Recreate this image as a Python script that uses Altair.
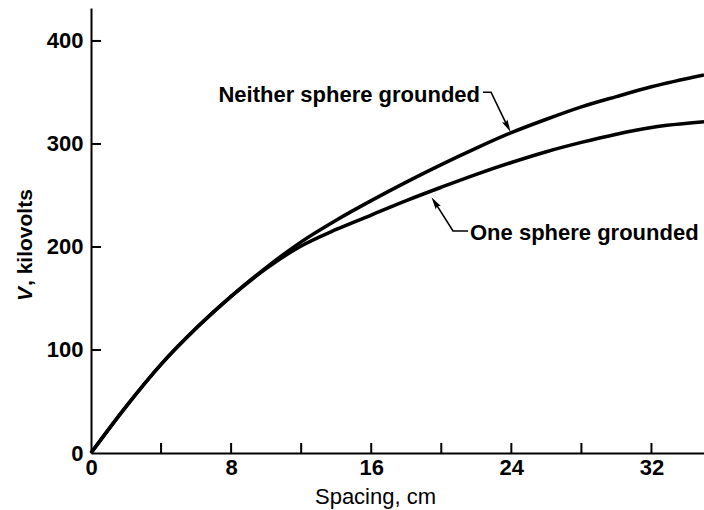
import altair as alt
import pandas as pd

# ---- data ----
spacing = [0, 2, 4, 6, 8, 10, 12, 14, 16, 18, 20, 22, 24, 26, 28, 30, 32, 35]
neither_grounded = [0, 45, 86, 121, 152, 180, 205, 226, 245, 263, 280, 296, 311, 324, 336, 346, 355.5, 367]
one_grounded = [0, 45, 86, 121, 152, 179, 201, 217, 231, 245, 258, 270.5, 282, 292.5, 301.5, 309.5, 316, 321.5]

x_tick_values = [4, 8, 12, 16, 20, 24, 28, 32]
x_label_values = [0, 8, 16, 24, 32]
y_tick_values = [100, 200, 300, 400]
y_label_values = [0, 100, 200, 300, 400]

label_texts = ["Neither sphere grounded", "One sphere grounded"]
label_x = [22.21, 21.64]
label_y = [341, 206.8]
label_align = ["right", "left"]

# leader lines (x, V) for each annotation
leader_group = ["a", "a", "a", "b", "b", "b"]
leader_order = [0, 1, 2, 0, 1, 2]
leader_x = [22.38, 22.84, 23.74, 21.53, 20.67, 19.69]
leader_v = [350.2, 350.2, 318.6, 215.5, 215.5, 241.8]

arrow_x = [23.74, 19.69]
arrow_v = [318.6, 241.8]
arrow_angle = [332, 147]

FONT = "Liberation Sans"
W, H = 613, 445

xs = alt.Scale(domain=[0, 35], nice=False, zero=True)
ys = alt.Scale(domain=[0, 432], nice=False, zero=True)

x_axis = alt.Axis(
    values=x_label_values, ticks=False, grid=False, labelPadding=4, labelFlush=False,
    labelFont=FONT, labelFontSize=22, labelFontWeight="bold", labelColor="black",
    labelOverlap=False, domainColor="black", domainWidth=2,
    title="Spacing, cm", titleFont=FONT, titleFontSize=22, titleFontWeight="normal",
    titleColor="black", titleX=284, titleY=50, titleBaseline="alphabetic",
    titleAlign="center")
y_axis = alt.Axis(
    values=y_label_values, ticks=False, grid=False, labelPadding=8, labelFlush=False,
    labelFont=FONT, labelFontSize=22, labelFontWeight="bold", labelColor="black",
    labelOverlap=False, domainColor="black", domainWidth=2, title=None)


def X(field):
    return alt.X(field, scale=xs, axis=x_axis)


def Y(field):
    return alt.Y(field, scale=ys, axis=y_axis)


curves = pd.DataFrame({
    "x": spacing * 2,
    "v": neither_grounded + one_grounded,
    "series": ["neither"] * len(spacing) + ["one"] * len(spacing),
})

base_lines = alt.Chart(curves).mark_line(
    color="black", strokeWidth=3.5, interpolate="monotone"
).encode(
    x=X("x:Q"), y=Y("v:Q"), detail="series:N",
)

xt = alt.Chart(pd.DataFrame({"x": x_tick_values})).mark_rule(
    color="black", strokeWidth=2
).encode(
    x=X("x:Q"), y=alt.value(H), y2=alt.value(H - 10),
)

yt = alt.Chart(pd.DataFrame({"v": y_tick_values})).mark_rule(
    color="black", strokeWidth=2
).encode(
    y=Y("v:Q"), x=alt.value(0), x2=alt.value(10),
)

labels_df = pd.DataFrame({"label": label_texts, "x": label_x, "v": label_y, "align": label_align})
lab_right = alt.Chart(labels_df[labels_df["align"] == "right"]).mark_text(
    align="right", baseline="alphabetic", font=FONT, fontSize=22, fontWeight="bold", color="black"
).encode(x=X("x:Q"), y=Y("v:Q"), text="label:N")
lab_left = alt.Chart(labels_df[labels_df["align"] == "left"]).mark_text(
    align="left", baseline="alphabetic", font=FONT, fontSize=22, fontWeight="bold", color="black"
).encode(x=X("x:Q"), y=Y("v:Q"), text="label:N")

leaders = alt.Chart(pd.DataFrame({
    "g": leader_group, "o": leader_order, "x": leader_x, "v": leader_v
})).mark_line(color="black", strokeWidth=1.6).encode(
    x=X("x:Q"), y=Y("v:Q"), detail="g:N", order="o:Q",
)

arrows = alt.Chart(pd.DataFrame({"x": arrow_x, "v": arrow_v, "a": arrow_angle})).mark_point(
    shape="M0,1 L-0.38,-0.55 L0,-0.3 L0.38,-0.55 Z", filled=True, color="black", size=260, opacity=1
).encode(
    x=X("x:Q"), y=Y("v:Q"), angle=alt.Angle("a:Q", scale=None),
)

ytitle_v = alt.Chart(pd.DataFrame({"t": ["V"]})).mark_text(
    angle=270, align="left", baseline="middle", font=FONT, fontSize=21,
    fontWeight="bold", fontStyle="italic", color="black"
).encode(x=alt.value(-65), y=alt.value(293), text="t:N")

ytitle_rest = alt.Chart(pd.DataFrame({"t": [", kilovolts"]})).mark_text(
    angle=270, align="left", baseline="middle", font=FONT, fontSize=21,
    fontWeight="bold", color="black"
).encode(x=alt.value(-65), y=alt.value(278), text="t:N")

chart = alt.layer(
    base_lines, xt, yt, leaders, arrows, lab_right, lab_left, ytitle_v, ytitle_rest
).properties(
    width=W, height=H,
    padding={"left": 91, "top": 8, "right": 0, "bottom": 57},
    autosize=alt.AutoSizeParams(type="none"),
    background="white",
).configure_view(stroke=None)

chart.save("out.html", embed_options={"renderer": "svg", "actions": False})
